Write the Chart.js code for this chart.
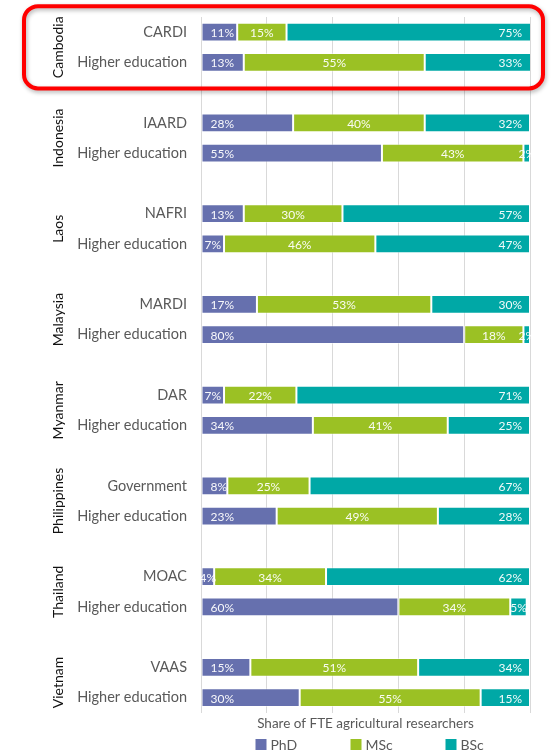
<!DOCTYPE html>
<html>
<head>
<meta charset="utf-8">
<script src="https://cdn.jsdelivr.net/npm/chart.js@4"></script>
<style>
  html, body { margin: 0; padding: 0; background: #fff; }
  #wrap { width: 551px; height: 755px; }
</style>
</head>
<body>
<div id="wrap"><canvas id="barChart"></canvas></div>
<script>
// one empty slot between each country group
const countries = ['Cambodia', 'Indonesia', 'Laos', 'Malaysia', 'Myanmar', 'Philippines', 'Thailand', 'Vietnam'];
const categories = [
    'CARDI', 'Higher education', '',
    'IAARD', 'Higher education', '',
    'NAFRI', 'Higher education', '',
    'MARDI', 'Higher education', '',
    'DAR', 'Higher education', '',
    'Government', 'Higher education', '',
    'MOAC', 'Higher education', '',
    'VAAS', 'Higher education'
];
const phd = [11, 13, null, 28, 55, null, 13, 7, null, 17, 80, null, 7, 34, null, 8, 23, null, 4, 60, null, 15, 30];
const msc = [15, 55, null, 40, 43, null, 30, 46, null, 53, 18, null, 22, 41, null, 25, 49, null, 34, 34, null, 51, 55];
const bsc = [75, 33, null, 32, 2, null, 57, 47, null, 30, 2, null, 71, 25, null, 67, 28, null, 62, 5, null, 34, 15];
const xTicks = [0, 20, 40, 60, 80, 100];

const FONT = 'Lato, "Open Sans", sans-serif';
const GREY = '#595959';

// percentage labels inside the segments
const barLabels = {
    id: 'barLabels',
    afterDatasetsDraw(chart) {
        const ctx = chart.ctx;
        const area = chart.chartArea;
        ctx.save();
        ctx.font = '12px ' + FONT;
        ctx.fillStyle = 'rgba(255,255,255,0.95)';
        ctx.textBaseline = 'middle';
        chart.data.datasets.forEach((ds, di) => {
            const meta = chart.getDatasetMeta(di);
            meta.data.forEach((bar, i) => {
                const v = ds.data[i];
                if (v == null) return;
                const txt = v + '%';
                const w = ctx.measureText(txt).width;
                const x0 = Math.min(bar.base, bar.x);
                const x1 = Math.min(Math.max(bar.base, bar.x), area.right);
                let x;
                if (di === 0 && x1 - x0 >= w + 9) {
                    ctx.textAlign = 'left';
                    x = x0 + 9;
                } else if (di === 1 || x1 - x0 < w + 12) {
                    ctx.textAlign = 'center';
                    x = (x0 + x1) / 2;
                } else {
                    ctx.textAlign = 'right';
                    x = x1 - 8;
                }
                ctx.fillText(txt, x, bar.y + 1);
            });
        });
        ctx.restore();
    }
};

// rotated country names, red box round Cambodia, legend
const decorations = {
    id: 'decorations',
    afterDraw(chart) {
        const ctx = chart.ctx;
        const y = chart.scales.y;
        const area = chart.chartArea;
        ctx.save();
        ctx.font = '14px ' + FONT;
        ctx.fillStyle = '#111';
        ctx.textAlign = 'center';
        ctx.textBaseline = 'middle';
        countries.forEach((c, g) => {
            const cy = (y.getPixelForValue(g * 3) + y.getPixelForValue(g * 3 + 1)) / 2;
            ctx.save();
            ctx.translate(58, cy);
            ctx.rotate(-Math.PI / 2);
            ctx.fillText(c, 0, 0);
            ctx.restore();
        });

        // highlight box
        const top = y.getPixelForValue(0) - 26;
        const bottom = y.getPixelForValue(1) + 26;
        ctx.save();
        ctx.shadowColor = 'rgba(0,0,0,0.3)';
        ctx.shadowBlur = 4;
        ctx.shadowOffsetX = 1;
        ctx.shadowOffsetY = 2;
        ctx.strokeStyle = '#ff0000';
        ctx.lineWidth = 4;
        ctx.beginPath();
        ctx.roundRect(24, top, area.right + 13 - 24, bottom - top, 14);
        ctx.stroke();
        ctx.restore();

        // legend
        ctx.font = '14px ' + FONT;
        ctx.textAlign = 'left';
        const lx = (area.left + area.right) / 2 - 110;
        const ly = 745;
        chart.data.datasets.forEach((ds, i) => {
            const x = lx + i * 95;
            ctx.fillStyle = ds.backgroundColor;
            ctx.fillRect(x, ly - 6, 11, 11);
            ctx.fillStyle = GREY;
            ctx.fillText(ds.label, x + 15, ly);
        });
        ctx.restore();
    }
};

document.addEventListener('DOMContentLoaded', () => {
    const ctx = document.getElementById('barChart').getContext('2d');
    new Chart(ctx, {
        type: 'bar',
        data: {
            labels: categories,
            datasets: [
                { label: 'PhD', data: phd, backgroundColor: '#6670ae' },
                { label: 'MSc', data: msc, backgroundColor: '#9bc124' },
                { label: 'BSc', data: bsc, backgroundColor: '#00a8a6' }
            ]
        },
        options: {
            indexAxis: 'y',
            responsive: true,
            maintainAspectRatio: false,
            animation: false,
            datasets: {
                bar: {
                    categoryPercentage: 1,
                    barPercentage: 0.62,
                    borderWidth: 1,
                    borderColor: 'rgba(255,255,255,0.45)',
                    borderSkipped: false
                }
            },
            layout: { padding: { top: 17, right: 21, bottom: 23, left: 0 } },
            scales: {
                x: {
                    stacked: true,
                    min: 0,
                    max: 100,
                    afterBuildTicks: (s) => { s.ticks = xTicks.map(v => ({ value: v })); },
                    ticks: { display: false },
                    grid: { color: '#d9d9d9', drawTicks: false },
                    border: { display: false },
                    title: {
                        display: true,
                        text: 'Share of FTE agricultural researchers',
                        color: GREY,
                        font: { family: FONT, size: 13.5 },
                        padding: { top: 3, bottom: 0 }
                    }
                },
                y: {
                    stacked: true,
                    afterFit: (s) => {
                        s.width = 201;
                        s.paddingTop = 0;
                        s.paddingBottom = 0;
                    },
                    grid: { display: false, drawTicks: false },
                    border: { display: false },
                    ticks: {
                        color: GREY,
                        padding: 14,
                        autoSkip: false,
                        font: { family: FONT, size: 14.5 }
                    }
                }
            },
            plugins: {
                legend: { display: false },
                tooltip: { enabled: false }
            }
        },
        plugins: [barLabels, decorations]
    });
});
</script>
</body>
</html>
